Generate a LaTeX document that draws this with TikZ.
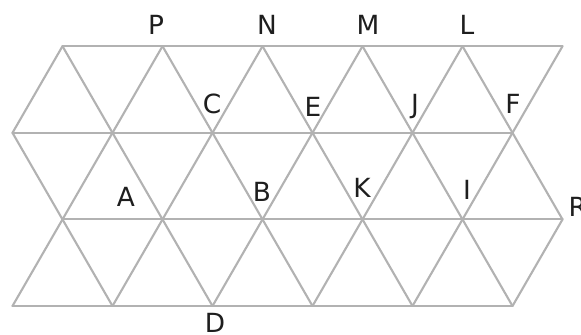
\documentclass[tikz,border=0pt]{standalone}
\usepackage{fontspec}
\setmainfont{DejaVu Sans}
\definecolor{gridgray}{RGB}{178,178,178}
\definecolor{labelc}{RGB}{30,30,30}
\begin{document}
\begin{tikzpicture}[x=1cm,y=1cm,
  gridline/.style={draw=gridgray,line width=0.6pt,line cap=round},
  lbl/.style={text=labelc,font=\fontsize{7.5}{8.5}\selectfont,inner sep=0pt}]
\useasboundingbox (0,0) rectangle (5.81,3.34);
\def\ya{2.878}\def\yb{2.012}\def\yc{1.146}\def\yd{0.280}
% horizontal lines
\draw[gridline] (0.625,\ya) -- (5.625,\ya);
\draw[gridline] (0.125,\yb) -- (5.125,\yb);
\draw[gridline] (0.625,\yc) -- (5.625,\yc);
\draw[gridline] (0.125,\yd) -- (5.125,\yd);
% slanted lines, strip by strip
\foreach \k in {0,...,5} {
  \draw[gridline] (0.125+\k,\yb) -- (0.625+\k,\ya);
  \draw[gridline] (0.125+\k,\yb) -- (0.625+\k,\yc);
  \draw[gridline] (0.125+\k,\yd) -- (0.625+\k,\yc);
}
\foreach \k in {0,...,4} {
  \draw[gridline] (0.625+\k,\ya) -- (1.125+\k,\yb);
  \draw[gridline] (0.625+\k,\yc) -- (1.125+\k,\yb);
  \draw[gridline] (0.625+\k,\yc) -- (1.125+\k,\yd);
}
% labels
\node[lbl] (P) at (1.56,3.09) {P};
\node[lbl] (N) at (2.67,3.09) {N};
\node[lbl] (M) at (3.68,3.09) {M};
\node[lbl] (L) at (4.67,3.09) {L};
\node[lbl] (C) at (2.12,2.30) {C};
\node[lbl] (E) at (3.13,2.27) {E};
\node[lbl] (J) at (4.15,2.27) {J};
\node[lbl] (F) at (5.13,2.30) {F};
\node[lbl] (A) at (1.26,1.37) {A};
\node[lbl] (B) at (2.62,1.42) {B};
\node[lbl] (K) at (3.62,1.46) {K};
\node[lbl] (I) at (4.67,1.44) {I};
\node[lbl,anchor=west] (R) at (5.68,1.27) {R};
\node[lbl] (D) at (2.15,0.11) {D};
\end{tikzpicture}
\end{document}
